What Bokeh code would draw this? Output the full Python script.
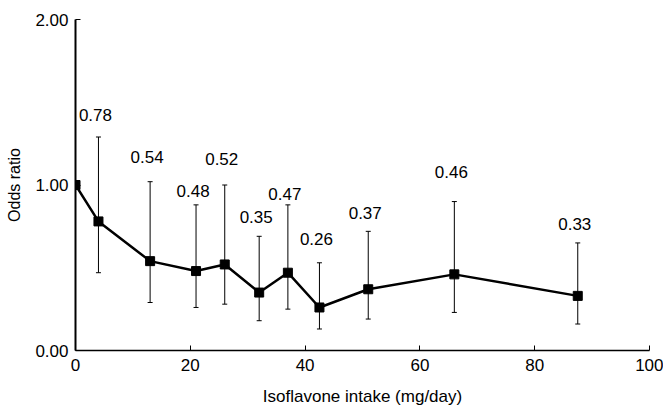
from bokeh.plotting import figure
from bokeh.models import ColumnDataSource, Whisker, TeeHead, FixedTicker
from bokeh.core.properties import value
from bokeh.embed import file_html
from bokeh.resources import INLINE

# data
intake = [0, 4, 13, 21, 26, 32, 37, 42.5, 51, 66, 87.5]
odds = [1.00, 0.78, 0.54, 0.48, 0.52, 0.35, 0.47, 0.26, 0.37, 0.46, 0.33]
ci_low = [1.00, 0.47, 0.29, 0.26, 0.28, 0.18, 0.25, 0.13, 0.19, 0.23, 0.16]
ci_high = [1.00, 1.29, 1.02, 0.88, 1.00, 0.69, 0.88, 0.53, 0.72, 0.90, 0.65]
labels = ["", "0.78", "0.54", "0.48", "0.52", "0.35", "0.47", "0.26", "0.37", "0.46", "0.33"]
# label lift above the upper CI (screen px)
label_lift = [0, 22, 25, 14, 26, 19, 11, 24, 18, 30, 19]

x_ticks = [0, 20, 40, 60, 80, 100]
y_ticks = [0, 1, 2]
y_tick_labels = {0: "0.00", 1: "1.00", 2: "2.00"}

FONT = "Liberation Sans"

src = ColumnDataSource(dict(x=intake, y=odds, lo=ci_low, hi=ci_high,
                            lab=labels, yoff=[-v for v in label_lift]))
eb = ColumnDataSource(dict(x=intake[1:], lo=ci_low[1:], hi=ci_high[1:]))

p = figure(width=663, height=408, output_backend="svg", toolbar_location=None,
           x_range=(0, 100), y_range=(0, 2),
           min_border_left=75, min_border_right=14, min_border_top=19, min_border_bottom=55)
p.outline_line_color = None
p.xgrid.visible = False
p.ygrid.visible = False
p.background_fill_color = "white"

w = Whisker(source=eb, base="x", lower="lo", upper="hi", line_color="black", line_width=1,
            lower_head=TeeHead(size=5, line_color="black", line_width=1),
            upper_head=TeeHead(size=5, line_color="black", line_width=1))
p.add_layout(w)

p.line("x", "y", source=src, line_color="black", line_width=2.5)
p.scatter("x", "y", source=src, marker="square", size=9, fill_color="black", line_color="black")

p.text("x", "hi", text="lab", source=src, text_font=value(FONT), text_font_size="17px",
       text_align="center", text_baseline="middle", x_offset=-3, y_offset="yoff",
       text_color="black")

for ax in (p.xaxis[0], p.yaxis[0]):
    ax.major_tick_in = 5
    ax.major_tick_out = 0
    ax.minor_tick_line_color = None
    ax.axis_line_color = "black"
    ax.major_tick_line_color = "black"
    ax.major_label_text_font = FONT
    ax.major_label_text_font_size = "17px"
    ax.major_label_text_color = "black"
    ax.axis_label_text_font = FONT
    ax.axis_label_text_font_size = "16px"
    ax.axis_label_text_font_style = "normal"
    ax.axis_label_text_color = "black"

p.xaxis.ticker = FixedTicker(ticks=x_ticks)
p.yaxis.ticker = FixedTicker(ticks=y_ticks)
p.yaxis.major_label_overrides = y_tick_labels
p.xaxis.axis_label = "Isoflavone intake (mg/day)"
p.xaxis.axis_label_text_font_size = "17px"
p.yaxis.axis_label = "Odds ratio"
p.xaxis.axis_line_width = 1.5
p.yaxis.axis_line_width = 2
p.xaxis.major_label_standoff = 8
p.yaxis.major_label_standoff = 7
p.xaxis.axis_label_standoff = 13
p.yaxis.axis_label_standoff = 9

open("out.html", "w").write(file_html(p, INLINE))
